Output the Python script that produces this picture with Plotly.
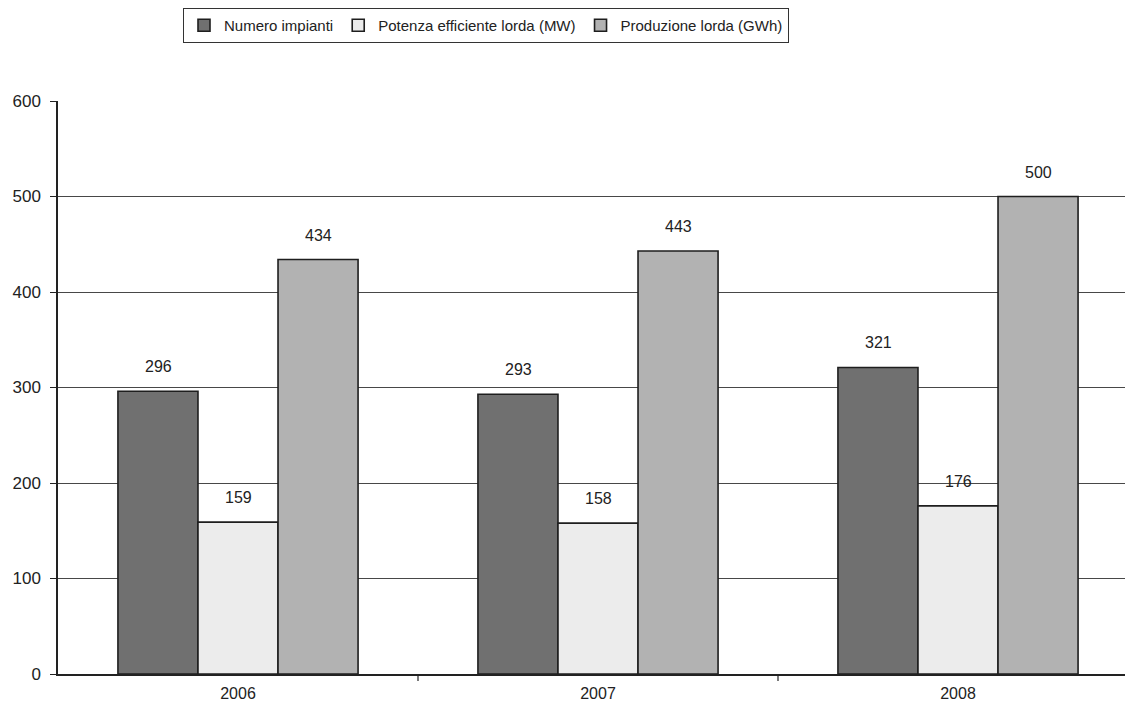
import plotly.graph_objects as go

# Dati per anno
anni = ["2006", "2007", "2008"]
numero_impianti = [296, 293, 321]
potenza_mw = [159, 158, 176]
produzione_gwh = [434, 443, 500]

serie = [
    ("Numero impianti", numero_impianti, "#707070"),
    ("Potenza efficiente lorda (MW)", potenza_mw, "#ececec"),
    ("Produzione lorda (GWh)", produzione_gwh, "#b2b2b2"),
]

FONT = "Liberation Sans, Arial"
BAR_PX = 80  # larghezza di una barra in pixel, usata per centrare le etichette

fig = go.Figure()
for k, (nome, valori, colore) in enumerate(serie):
    fig.add_trace(go.Bar(
        name=nome,
        x=anni,
        y=valori,
        marker=dict(color=colore, line=dict(color="#1e1e1e", width=1.6)),
        cliponaxis=False,
    ))
    # etichette dei valori sopra ciascuna barra (asse categorico: indice della categoria)
    for i, v in enumerate(valori):
        fig.add_annotation(
            x=i, y=v, xref="x", yref="y",
            xshift=(k - 1) * BAR_PX, yshift=14,
            text=str(v), showarrow=False,
            yanchor="bottom", xanchor="center",
            font=dict(family=FONT, size=16, color="#222222"),
        )

fig.update_layout(
    width=1125,
    height=707,
    margin=dict(l=58, r=0, t=101, b=33),
    paper_bgcolor="white",
    plot_bgcolor="white",
    barmode="group",
    bargap=0.333,
    bargroupgap=0,
    font=dict(family=FONT, color="#222222"),
    showlegend=True,
    legend=dict(
        orientation="h",
        xref="container", yref="container",
        x=183 / 1125, xanchor="left",
        y=1 - 8 / 707, yanchor="top",
        bordercolor="#333333", borderwidth=1,
        font=dict(size=15, color="#222222"),
        itemwidth=30,
        tracegroupgap=0,
    ),
    xaxis=dict(
        type="category",
        range=[-0.5, 2.5 - 13 / 360],
        showline=True, linecolor="#222222", linewidth=1.5,
        ticks="", showgrid=False,
        ticklabelstandoff=4,
        automargin=False,
        tickfont=dict(size=16, color="#222222"),
    ),
    yaxis=dict(
        range=[0, 600],
        tickvals=[0, 100, 200, 300, 400, 500, 600],
        showline=True, linecolor="#222222", linewidth=1.5,
        ticks="outside", ticklen=6, tickcolor="#222222",
        showgrid=True, gridcolor="#484848", gridwidth=1,
        ticklabelstandoff=6,
        automargin=False,
        tickfont=dict(size=17, color="#222222"),
        zeroline=False,
    ),
)

# Tacche di separazione tra le categorie sull'asse x
for xb in [0.5, 1.5]:
    fig.add_shape(type="line", xref="x", yref="paper",
                  x0=xb, x1=xb, y0=0, y1=-0.012,
                  line=dict(color="#222222", width=1.2))

fig.write_html("out.html")
